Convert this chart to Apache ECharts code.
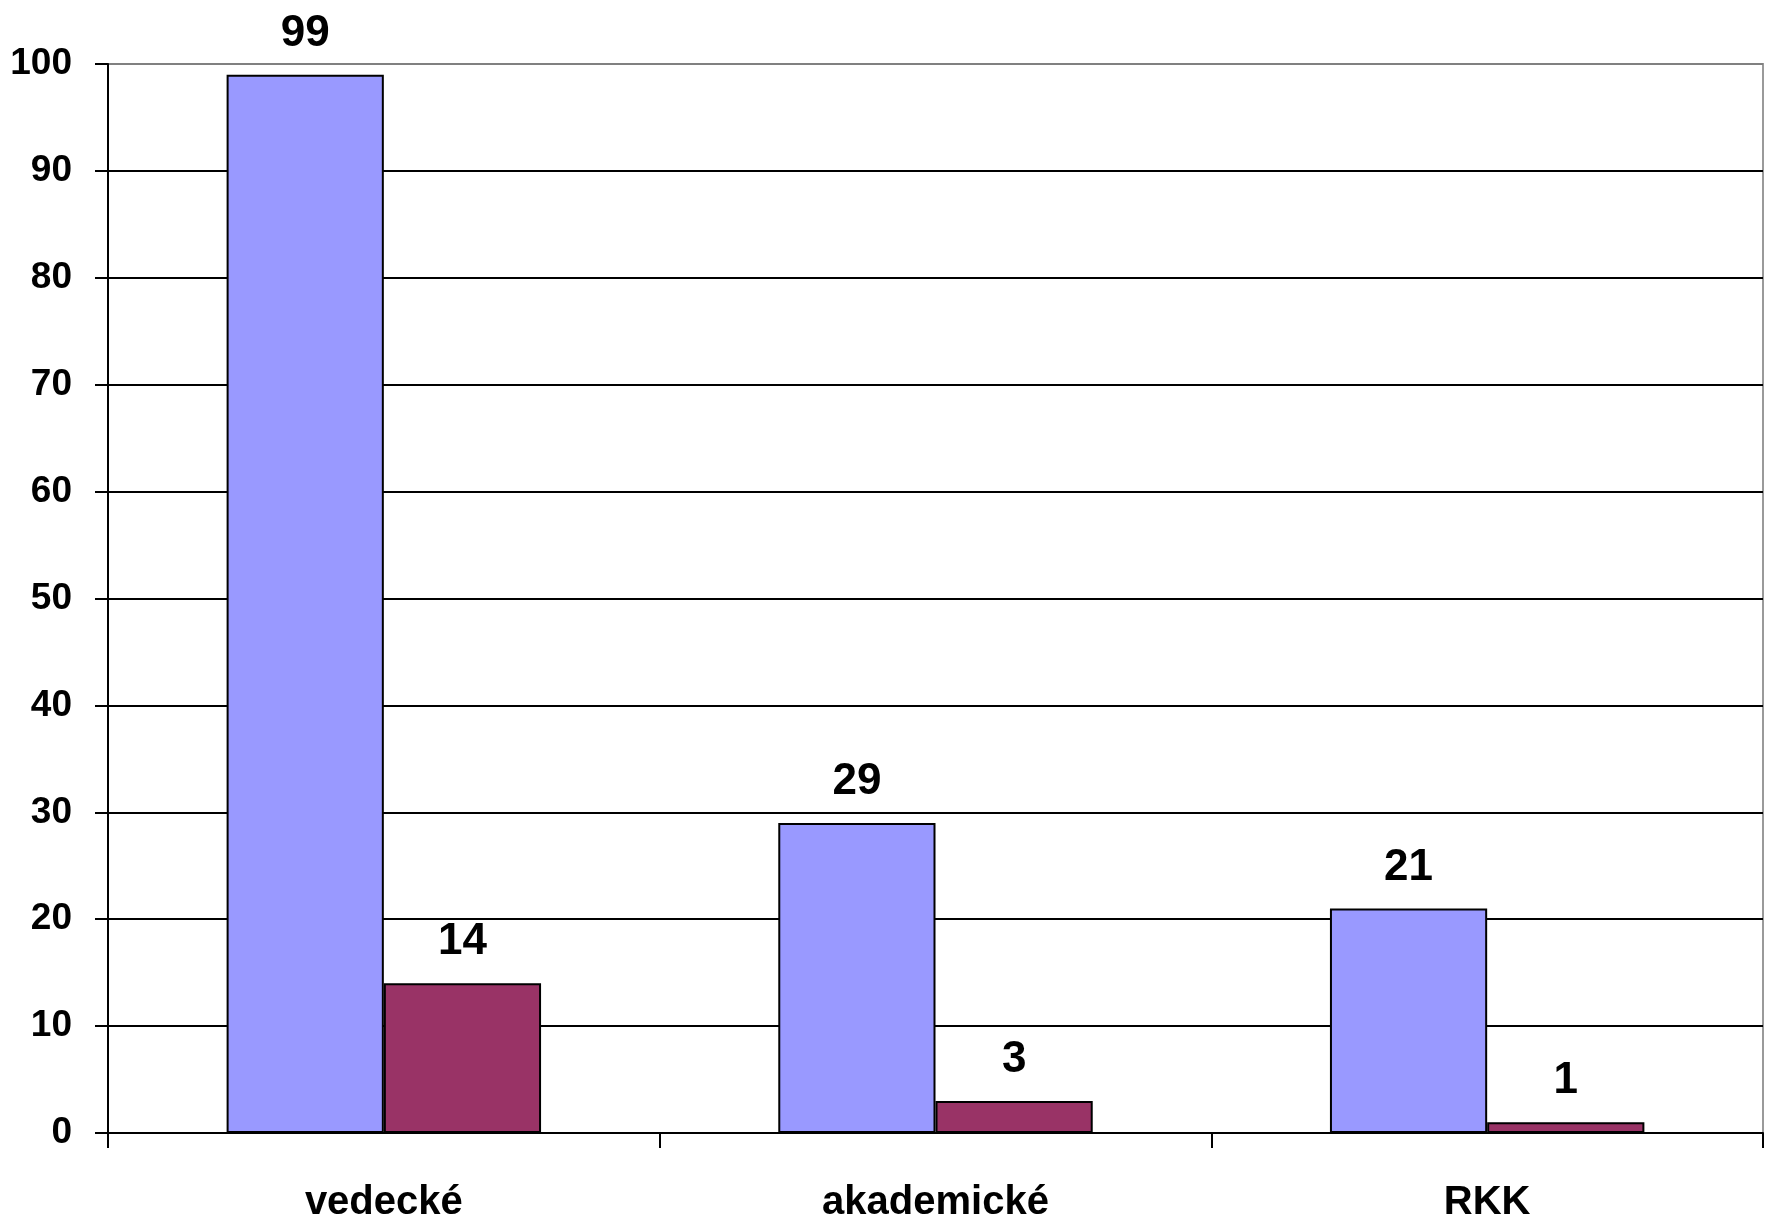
<!DOCTYPE html>
<html>
<head>
<meta charset="utf-8">
<style>
  html, body { margin: 0; padding: 0; background: #fff; }
  #chart { width: 1773px; height: 1223px; }
</style>
<script src="https://cdn.jsdelivr.net/npm/echarts@6/dist/echarts.min.js"></script>
</head>
<body>
<div id="chart"></div>
<script>
// categories and the two series
const categories = ['vedecké', 'akademické', 'RKK'];
const seriesA = [99, 29, 21];
const seriesB = [14, 3, 1];

const font = '"Liberation Sans", Arial, sans-serif';

// black grid lines, the top one (100) grey like the plot border
let splitColors = [];
for (let i = 0; i < 10; ++i) splitColors.push('#000000');
splitColors.push('#808080');

function barSeries(name, data, color) {
    return {
        name: name,
        type: 'bar',
        data: data,
        barGap: '0%',
        barCategoryGap: '43%',
        itemStyle: {
            color: color,
            borderColor: '#000000',
            borderWidth: 2
        },
        label: {
            show: true,
            position: 'top',
            distance: 19,
            color: '#000000',
            fontFamily: font,
            fontWeight: 'bold',
            fontSize: 44
        }
    };
}

const option = {
    animation: false,
    backgroundColor: '#ffffff',
    grid: {
        left: 108,
        right: 10,
        top: 64,
        bottom: 90,
        show: true,
        borderColor: '#9a9a9a',
        borderWidth: 2
    },
    xAxis: {
        type: 'category',
        data: categories,
        axisLine: { lineStyle: { color: '#000000', width: 2 } },
        axisTick: { show: true, length: 15, lineStyle: { color: '#000000', width: 2 } },
        axisLabel: {
            margin: 50,
            color: '#000000',
            fontFamily: font,
            fontWeight: 'bold',
            fontSize: 40
        }
    },
    yAxis: {
        type: 'value',
        min: 0,
        max: 100,
        interval: 10,
        axisLine: { show: true, lineStyle: { color: '#000000', width: 2 } },
        axisTick: { show: true, length: 13, lineStyle: { color: '#000000', width: 2 } },
        splitLine: { show: true, lineStyle: { color: splitColors, width: 2 } },
        axisLabel: {
            margin: 36,
            color: '#000000',
            fontFamily: font,
            fontWeight: 'bold',
            fontSize: 37
        }
    },
    series: [
        barSeries('A', seriesA, '#9999ff'),
        barSeries('B', seriesB, '#993366')
    ]
};

var myChart = echarts.init(document.getElementById('chart'));
myChart.setOption(option);
</script>
</body>
</html>
